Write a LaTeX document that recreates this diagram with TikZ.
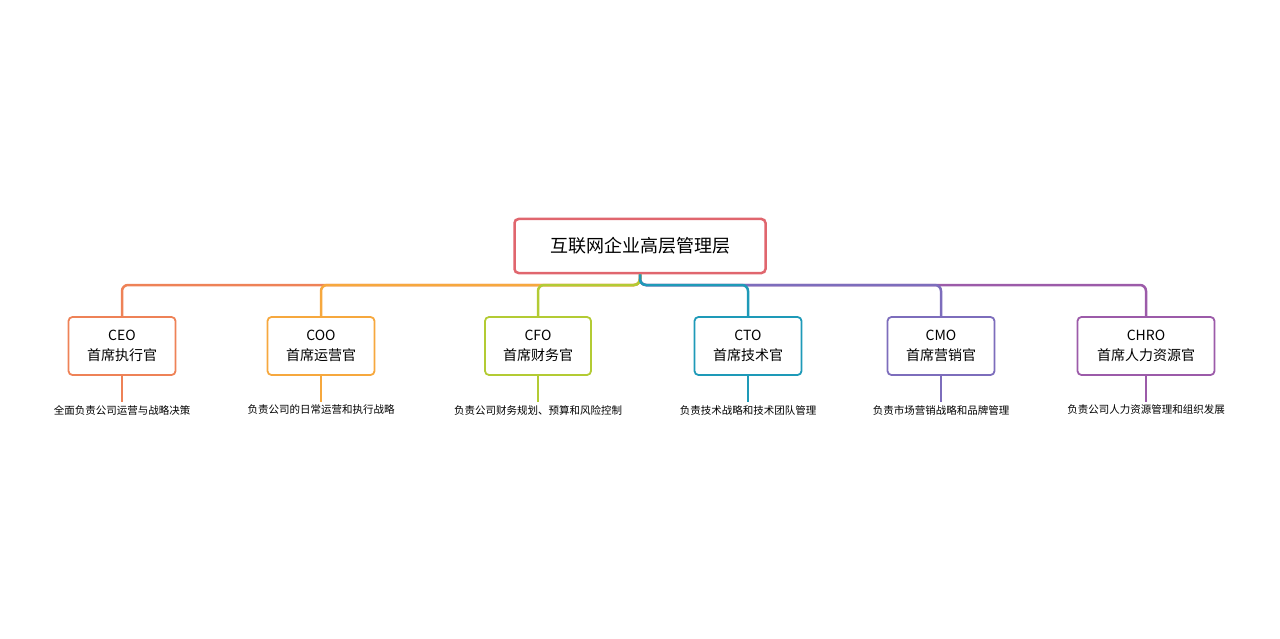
\documentclass[tikz,border=0pt]{standalone}
\usepackage{fontspec}
\setmainfont{Noto Sans CJK SC}
\usetikzlibrary{positioning}
\definecolor{rootc}{HTML}{E0666E}
\definecolor{ceoc}{HTML}{EE8257}
\definecolor{cooc}{HTML}{F6A83E}
\definecolor{cfoc}{HTML}{B3CB34}
\definecolor{ctoc}{HTML}{1E9AB8}
\definecolor{cmoc}{HTML}{7D6DBC}
\definecolor{chroc}{HTML}{9C5BA9}

\begin{document}
\begin{tikzpicture}[
x=1pt,y=-1pt,
root/.style={
  draw=rootc,
  line width=2.5pt,
  rounded corners=4pt,
  minimum width=251pt,
  minimum height=54pt,
  font=\fontsize{18}{20}\selectfont
},
role/.style={
  draw=#1,
  line width=1.8pt,
  rounded corners=4pt,
  minimum height=58pt,
  align=center,
  font=\fontsize{14}{20}\selectfont
},
desc/.style={
  font=\fontsize{10.5}{12}\selectfont
},
branch/.style={
  draw=#1,
  line width=2.5pt,
  rounded corners=6pt
}
]
\useasboundingbox (0,0) rectangle (1280,639);
\node[root] (top) at (640,246) {互联网企业高层管理层};

\node[role=ceoc,minimum width=107pt] (ceo) at (122,346) {CEO\\首席执行官};
\node[role=cooc,minimum width=107pt] (coo) at (321,346) {COO\\首席运营官};
\node[role=cfoc,minimum width=106pt] (cfo) at (538,346) {CFO\\首席财务官};
\node[role=ctoc,minimum width=107pt] (cto) at (748,346) {CTO\\首席技术官};
\node[role=cmoc,minimum width=107pt] (cmo) at (941,346) {CMO\\首席营销官};
\node[role=chroc,minimum width=137pt] (chro) at (1146,346) {CHRO\\首席人力资源官};

\node[desc] (dceo) at (122,410) {全面负责公司运营与战略决策};
\node[desc] (dcoo) at (321,410) {负责公司的日常运营和执行战略};
\node[desc] (dcfo) at (538,410) {负责公司财务规划、预算和风险控制};
\node[desc] (dcto) at (748,410) {负责技术战略和技术团队管理};
\node[desc] (dcmo) at (941,410) {负责市场营销战略和品牌管理};
\node[desc] (dchro) at (1146,410) {负责公司人力资源管理和组织发展};

% branches, longest first
\draw[branch=ceoc] (top.south) |- (ceo.north |- 0,285) -- (ceo.north);
\draw[branch=chroc] (top.south) |- (chro.north |- 0,285) -- (chro.north);
\draw[branch=cooc] (top.south) |- (coo.north |- 0,285) -- (coo.north);
\draw[branch=cmoc] (top.south) |- (cmo.north |- 0,285) -- (cmo.north);
\draw[branch=cfoc] (top.south) |- (cfo.north |- 0,285) -- (cfo.north);
\draw[branch=ctoc] (top.south) |- (cto.north |- 0,285) -- (cto.north);

\foreach \r/\c in {ceo/ceoc,coo/cooc,cfo/cfoc,cto/ctoc,cmo/cmoc,chro/chroc}
  \draw[\c,line width=1.2pt] (\r.south) -- (d\r.north);
\end{tikzpicture}
\end{document}
